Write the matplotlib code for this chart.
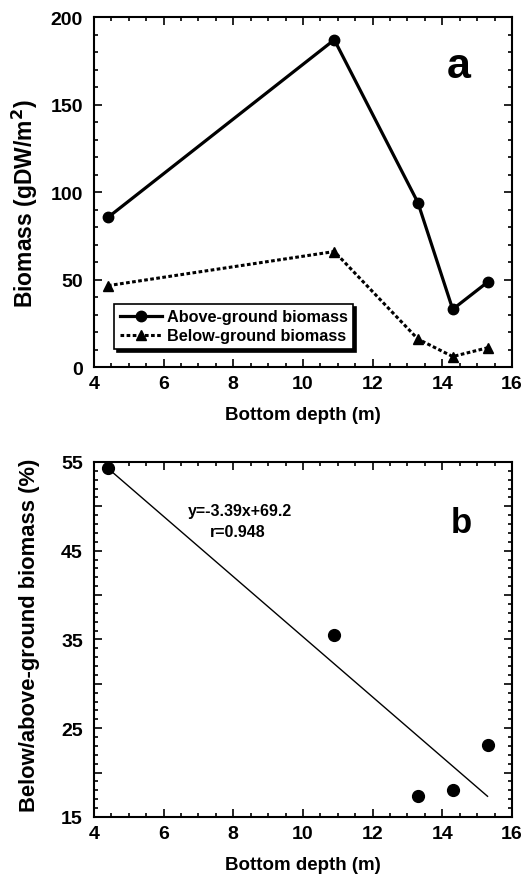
import numpy as np
import matplotlib.pyplot as plt
from matplotlib.ticker import MultipleLocator, FuncFormatter

plt.rcParams['font.family'] = ['Liberation Sans', 'DejaVu Sans']
plt.rcParams['font.weight'] = 'bold'
plt.rcParams['mathtext.default'] = 'bf'

# datos
depth = [4.4, 10.9, 13.3, 14.3, 15.3]
above = [85.5, 187, 94, 33, 48.5]
below = [46.5, 66, 16, 6, 11]
ratio = [54.3, 35.5, 17.4, 18.0, 23.1]
slope, intercept = -3.39, 69.2

fig = plt.figure(figsize=(5.29, 8.79), dpi=100)
ax1 = fig.add_axes([0.1777, 0.5813, 0.790, 0.3982])
ax2 = fig.add_axes([0.1777, 0.0694, 0.790, 0.4039])

def estilo(ax):
    ax.tick_params(which='both', direction='in', top=True, right=True, width=1.2)
    ax.tick_params(which='major', length=6, labelsize=14, pad=6)
    ax.tick_params(axis='y', which='major', pad=8)
    ax.tick_params(which='minor', length=3)
    for s in ax.spines.values():
        s.set_linewidth(1.5)
    ax.xaxis.set_major_locator(MultipleLocator(2))
    ax.xaxis.set_minor_locator(MultipleLocator(0.5))
    ax.set_xlim(4, 16)
    ax.set_xlabel('Bottom depth (m)', fontsize=13.5, fontweight='bold', labelpad=10)

# panel a
estilo(ax1)
ax1.plot(depth, above, '-o', color='black', lw=2.3, ms=7.5, label='Above-ground biomass')
ax1.plot(depth, below, '^', color='black', ls=(0, (1.2, 0.8)), lw=2.2, ms=7.5,
         label='Below-ground biomass')
ax1.set_ylim(0, 200)
ax1.yaxis.set_major_locator(MultipleLocator(50))
ax1.yaxis.set_minor_locator(MultipleLocator(10))
ax1.set_ylabel('Biomass (gDW/m$^2$)', fontsize=16.5, fontweight='bold')
ax1.yaxis.set_label_coords(-0.13, 0.47)
leg = ax1.legend(loc='lower left', bbox_to_anchor=(0.048, 0.051), fontsize=11.7,
                 frameon=True, fancybox=False, borderaxespad=0,
                 shadow={'color': 'black', 'alpha': 1, 'ox': 2, 'oy': -2},
                 handlelength=2.6, borderpad=0.35, labelspacing=0.25, handletextpad=0.3)
leg.get_frame().set_edgecolor('black')
leg.get_frame().set_linewidth(1.2)
leg.get_frame().set_alpha(1)
ax1.text(0.873, 0.86, 'a', transform=ax1.transAxes, fontsize=31, fontweight='bold',
         ha='center', va='center')

# panel b
estilo(ax2)
ax2.plot(depth, ratio, 'o', color='black', ms=8.5)
xs = np.array([depth[0], depth[-1]])
ax2.plot(xs, slope * xs + intercept, '-', color='black', lw=1)
ax2.set_ylim(15, 55)
ax2.yaxis.set_major_locator(MultipleLocator(5))
ax2.yaxis.set_minor_locator(MultipleLocator(1))
ax2.yaxis.set_major_formatter(FuncFormatter(lambda v, p: str(int(round(v))) if int(round(v)) % 10 == 5 else ''))
ax2.set_ylabel('Below/above-ground biomass (%)', fontsize=15.8, fontweight='bold')
ax2.yaxis.set_label_coords(-0.13, 0.515)
ax2.text(0.349, 0.862, 'y=-3.39x+69.2', transform=ax2.transAxes, fontsize=11.5,
         fontweight='bold', ha='center', va='center')
ax2.text(0.344, 0.803, 'r=0.948', transform=ax2.transAxes, fontsize=11.5,
         fontweight='bold', ha='center', va='center')
ax2.text(0.878, 0.83, 'b', transform=ax2.transAxes, fontsize=25, fontweight='bold',
         ha='center', va='center')

fig.savefig('out.png', dpi=100)
